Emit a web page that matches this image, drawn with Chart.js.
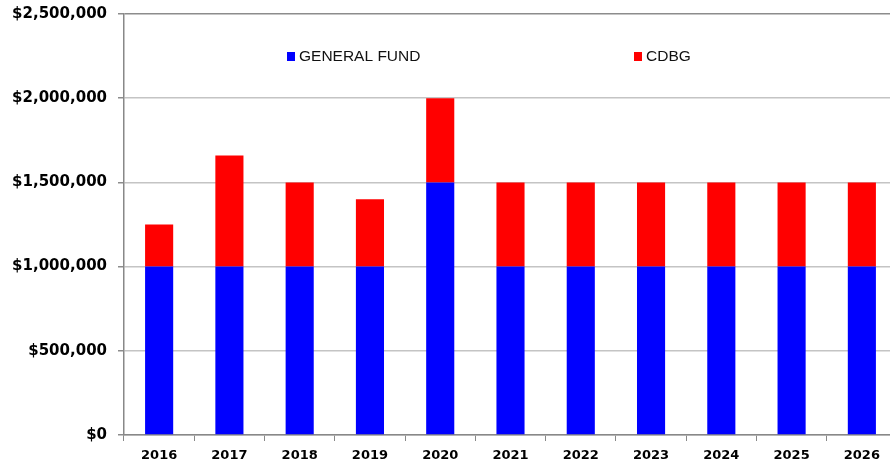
<!DOCTYPE html>
<html>
<head>
<meta charset="utf-8">
<script src="https://cdn.jsdelivr.net/npm/chart.js@4"></script>
<style>
  html, body { margin: 0; padding: 0; overflow: hidden; background: #fff; }
  #wrap { width: 900px; height: 466px; }
</style>
</head>
<body>
<div id="wrap"><canvas id="bar-chart" width="900" height="466"></canvas></div>
<script>
var years = ["2016", "2017", "2018", "2019", "2020", "2021", "2022", "2023", "2024", "2025", "2026"];
var generalFund = [1000000, 1000000, 1000000, 1000000, 1500000, 1000000, 1000000, 1000000, 1000000, 1000000, 1000000];
var cdbg = [250000, 660000, 500000, 400000, 500000, 500000, 500000, 500000, 500000, 500000, 500000];
var yTicks = [0, 500000, 1000000, 1500000, 2000000, 2500000];

// legend drawn inside the plot, like the original
var insideLegend = {
    id: 'insideLegend',
    afterDraw: function (chart) {
        var c = chart.ctx;
        var items = [
            { x: 287, ds: chart.data.datasets[0] },
            { x: 634, ds: chart.data.datasets[1] }
        ];
        c.save();
        c.font = '15.5px "Liberation Sans", Arial, sans-serif';
        c.textBaseline = 'middle';
        items.forEach(function (it) {
            c.fillStyle = it.ds.backgroundColor;
            c.fillRect(it.x, 52, 8, 9);
            c.fillStyle = '#111';
            c.fillText(it.ds.label, it.x + 12, 56.5);
        });
        c.restore();
    }
};

var ctx = document.getElementById("bar-chart");

var myChart = new Chart(ctx, {
    type: 'bar',
    data: {
        labels: years,
        datasets: [{
            label: "GENERAL FUND",
            data: generalFund,
            backgroundColor: "#0000ff",
            barPercentage: 0.8,
            categoryPercentage: 0.5
        }, {
            label: "CDBG",
            data: cdbg,
            backgroundColor: "#ff0000",
            barPercentage: 0.8,
            categoryPercentage: 0.5
        }]
    },
    options: {
        responsive: false,
        animation: false,
        layout: { padding: { left: 0, right: 3, top: 14, bottom: 0 } },
        plugins: {
            legend: { display: false },
            tooltip: { enabled: false }
        },
        scales: {
            x: {
                stacked: true,
                offset: true,
                grid: {
                    offset: true,
                    drawOnChartArea: false,
                    drawTicks: true,
                    tickLength: 6,
                    tickColor: '#888'
                },
                border: { color: '#888', width: 1.5 },
                ticks: {
                    color: '#000',
                    padding: 7,
                    font: { family: '"DejaVu Sans", sans-serif', weight: 'bold', size: 13 }
                },
                afterFit: function (scale) {
                    scale.height = 31;
                    scale.paddingLeft = 0;
                    scale.paddingRight = 0;
                }
            },
            y: {
                stacked: true,
                min: 0,
                max: 2500000,
                afterBuildTicks: function (scale) {
                    scale.ticks = yTicks.map(function (v) { return { value: v }; });
                },
                grid: {
                    color: function (c) { return c.tick && c.tick.value === 2500000 ? '#8c8c8c' : '#c4c4c4'; },
                    lineWidth: 1.5,
                    tickLength: 6,
                    tickColor: '#8c8c8c'
                },
                border: { color: '#888', width: 1.5 },
                ticks: {
                    color: '#000',
                    padding: 11,
                    font: { family: '"DejaVu Sans", sans-serif', weight: 'bold', size: 15 },
                    callback: function (v) { return '$' + Number(v).toLocaleString('en-US'); }
                },
                afterFit: function (scale) {
                    scale.width = 124;
                    scale.paddingTop = 0;
                    scale.paddingBottom = 0;
                }
            }
        }
    },
    plugins: [insideLegend]
});
</script>
</body>
</html>
